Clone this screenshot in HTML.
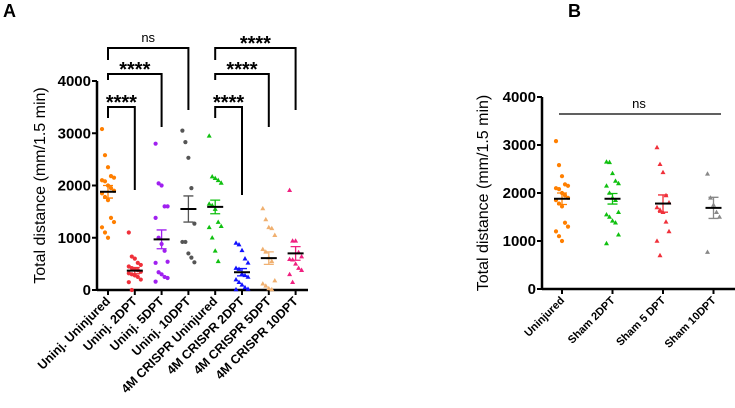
<!DOCTYPE html>
<html><head><meta charset="utf-8"><style>
body{margin:0;background:#fff}
svg{display:block;font-family:"Liberation Sans",Arial,sans-serif}
</style></head><body>
<svg id="c" width="735" height="408">
<text x="3" y="17" font-size="18" font-weight="bold">A</text>
<text x="568" y="17" font-size="18" font-weight="bold">B</text>
</svg>
<script>
const catsA=["Uninj. Uninjured","Uninj. 2DPT","Uninj. 5DPT","Uninj. 10DPT","4M CRISPR Uninjured","4M CRISPR 2DPT","4M CRISPR 5DPT","4M CRISPR 10DPT"];
const colorsA=["#ff7f00","#f0303a","#a020f0","#555555","#10c010","#1010ff","#f0b070","#f02080"];
const shapesA=["c","c","c","c","t","t","t","t"];
const valsA=[
[3080,2580,2350,2180,2150,2100,2080,2000,1950,1900,1850,1780,1720,1380,1300,1200,1100,1000],
[1100,640,600,520,480,450,420,400,380,350,320,300,280,250,200,150,0],
[2800,2040,2000,1600,1600,1380,1000,880,750,540,520,340,300,250,230,160],
[3050,2830,2530,1950,1270,920,920,700,620,530],
[2950,2170,2140,2100,2050,1650,1620,1550,1300,1220,1200,1000,750,550],
[900,870,760,600,520,420,400,310,280,250,200,150,100,50,20,10],
[1560,1350,1200,1180,1050,780,730,620,550,180,120,80,30,10],
[1910,940,940,720,640,590,580,500,420,380,300,150]];
const meanA=[1880,370,970,1550,1590,340,610,700];
const semA=[120,60,180,250,130,70,120,130];
const catsB=["Uninjured","Sham 2DPT","Sham 5 DPT","Sham 10DPT"];
const colorsB=["#ff7f00","#10c010","#f0303a","#888888"];
const shapesB=["c","t","t","t"];
const valsB=[
[3080,2580,2350,2180,2150,2100,2080,2000,1950,1900,1850,1780,1720,1380,1300,1200,1100,1000],
[2650,2640,2410,2250,2200,2150,2000,1900,1850,1600,1550,1500,1420,1380,1130,950],
[2950,2600,2430,1950,1800,1700,1650,1600,1400,1200,1000,700],
[2400,1900,1750,1600,1500,770]];
const meanB=[1880,1880,1780,1690];
const semB=[120,110,180,220];
const ticks=[0,1000,2000,3000,4000];

const NS="http://www.w3.org/2000/svg";
const svg=document.getElementById('c');
function mk(t,a,p){const e=document.createElementNS(NS,t);for(const k in a)e.setAttribute(k,a[k]);(p||svg).appendChild(e);return e;}

function panel(o){
 const g=mk('g',{});
 
 
 const y=v=>o.y0-(v/4000)*(o.y0-o.y4);
 const x=i=>o.x0+i*o.dx;
 const ax=mk('line',{x1:o.ax,y1:o.y4,x2:o.ax,y2:o.y0+1,stroke:'#000','stroke-width':2.5},g);
 
 
 const xa=mk('line',{x1:o.ax,y1:o.y0,x2:o.xend,y2:o.y0,stroke:'#000','stroke-width':2.5},g);
 
 
 ticks.forEach(t=>{
  mk('line',{x1:o.ax-5,x2:o.ax,y1:y(t),y2:y(t),stroke:'#000','stroke-width':2},g);
  const tx=mk('text',{x:o.ax-6,y:y(t)+5,'text-anchor':'end','font-size':15,'font-weight':'bold'},g);
  tx.textContent=t;
  
  
 });
 const tt=mk('text',{transform:`translate(${o.tx},${(o.y0+o.y4)/2}) rotate(-90)`,'text-anchor':'middle','font-size':16},g);
 tt.textContent='Total distance (mm/1.5 min)';
 
 
 o.cats.forEach((c,i)=>{
  const cx=x(i);
  mk('line',{x1:cx,x2:cx,y1:o.y0,y2:o.y0+5,stroke:'#000','stroke-width':2},g);
  const l=mk('text',{transform:`translate(${cx+3},${o.y0+12}) rotate(-45)`,'text-anchor':'end','font-size':o.lfs,'font-weight':'bold'},g);
  l.textContent=c;
  
  
  const col=o.colors[i];
  o.vals[i].forEach((v,j)=>{
   const px=cx+((j%5)-2)*3, py=y(v);
   let m;
   if(o.shapes[i]=='c') m=mk('circle',{cx:px,cy:py,r:2.1,fill:col},g);
   else m=mk('path',{d:`M${px},${py-2.6}L${px+2.5},${py+1.8}L${px-2.5},${py+1.8}Z`,fill:col},g);
   
   
  });
  const mn=o.mean[i],se=o.sem[i];
  const eb=mk('path',{d:`M${cx},${y(mn+se)}V${y(mn-se)}M${cx-5},${y(mn+se)}H${cx+5}M${cx-5},${y(mn-se)}H${cx+5}`,stroke:col,'stroke-width':1.3,fill:'none'},g);
  
  
  const ml=mk('line',{x1:cx-8,x2:cx+8,y1:y(mn),y2:y(mn),stroke:'#000','stroke-width':2},g);
  
  
 });
 return {x,y};
}
const A=panel({name:'panel-a-chart',ax:97,y0:290,y4:81,x0:108,dx:26.8,xend:308,tx:45,lfs:12.5,cats:catsA,colors:colorsA,shapes:shapesA,vals:valsA,mean:meanA,sem:semA});
const B=panel({name:'panel-b-chart',ax:542,y0:289,y4:97,x0:562,dx:50.5,xend:735,tx:488,lfs:11,cats:catsB,colors:colorsB,shapes:shapesB,vals:valsB,mean:meanB,sem:semB});

// significance brackets panel A: [from, to, top y, left leg end, right leg end, label]
const brA=[[0,3,48,60,110,'ns'],[0,2,74,80,127,'****'],[0,1,107,118,190,'****'],[4,7,48,60,110,'****'],[4,6,74,80,127,'****'],[4,5,107,118,195,'****']];
brA.forEach(b=>{
 const x1=A.x(b[0]),x2=A.x(b[1]);
 const p=mk('path',{d:`M${x1},${b[3]}V${b[2]}H${x2}V${b[4]}`,stroke:'#000','stroke-width':2,fill:'none'});
 
 
 const t=mk('text',{x:(x1+x2)/2,y:b[2]-(b[5]=='ns'?6:-2),'text-anchor':'middle','font-size':b[5]=='ns'?13:20,'font-weight':b[5]=='ns'?'normal':'bold'});
 t.textContent=b[5];
 
 
});
const nl=mk('line',{x1:559,x2:721,y1:114,y2:114,stroke:'#000','stroke-width':1.2});


const nt=mk('text',{x:639,y:108,'text-anchor':'middle','font-size':13});
nt.textContent='ns';


</script>
</body></html>
